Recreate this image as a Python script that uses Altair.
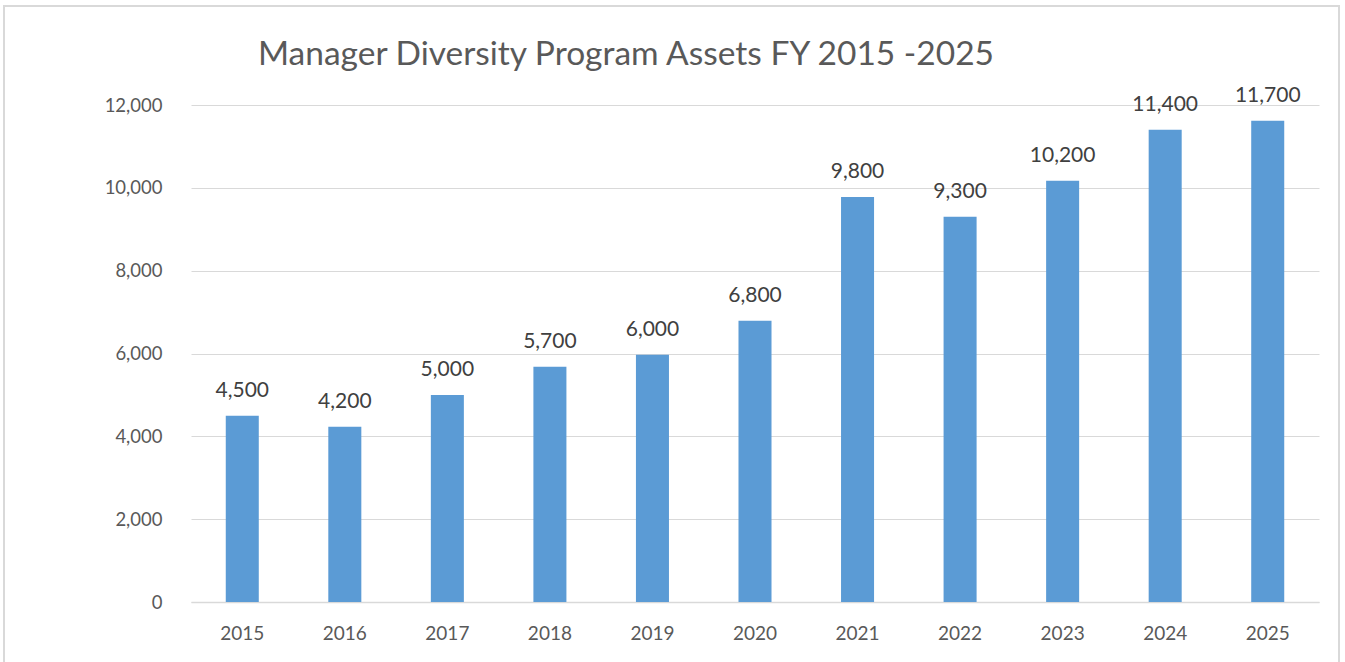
import altair as alt
import pandas as pd

years = ["2015", "2016", "2017", "2018", "2019", "2020", "2021", "2022", "2023", "2024", "2025"]
assets = [4500, 4230, 5000, 5680, 5970, 6790, 9780, 9300, 10170, 11400, 11620]
labels = ["4,500", "4,200", "5,000", "5,700", "6,000", "6,800", "9,800", "9,300", "10,200", "11,400", "11,700"]

df = pd.DataFrame({"year": years, "assets": assets, "label": labels})

FONT = "Lato"
GRAY = "#595959"

x_enc = alt.X("year:N", sort=years, title=None,
              scale=alt.Scale(paddingInner=0.678, paddingOuter=0.339),
              axis=alt.Axis(labelAngle=0, labelFontSize=19, labelColor=GRAY, labelFont=FONT,
                            ticks=False, labelPadding=22, domainColor="#D9D9D9", domainWidth=1.5))
y_enc = alt.Y("assets:Q", title=None,
              scale=alt.Scale(domain=[0, 12000], nice=False),
              axis=alt.Axis(values=[0, 2000, 4000, 6000, 8000, 10000, 12000], format=",.0f",
                            labelFontSize=18.5, labelColor=GRAY, labelFont=FONT, ticks=False,
                            labelPadding=29, domain=False, gridColor="#D9D9D9", gridWidth=1))

border = alt.Chart(df).mark_rect(fill=None, stroke="#D9D9D9", strokeWidth=2).encode(
    x=alt.value(-187), x2=alt.value(1148), y=alt.value(-99), y2=alt.value(620)
)

bars = alt.Chart(df).mark_bar(color="#5B9BD5").encode(x=x_enc, y=y_enc)

text = alt.Chart(df).mark_text(dy=-15, fontSize=21, color="#404040", font=FONT, baseline="bottom").encode(
    x=alt.X("year:N", sort=years), y="assets:Q", text="label:N"
)

chart = alt.layer(border, bars, text).properties(
    width=1128, height=497, background="white",
    title=alt.TitleParams("Manager Diversity Program Assets FY 2015 -2025", fontSize=33.5,
                          font=FONT, fontWeight="normal", color=GRAY, anchor="middle",
                          dx=-129, dy=131, offset=31, baseline="bottom"),
    autosize=alt.AutoSizeParams(type="none"),
    padding={"left": 191, "top": 105, "right": 25, "bottom": 60},
).configure_view(stroke=None)

chart.save("out.html", embed_options={"renderer": "svg", "actions": False})
